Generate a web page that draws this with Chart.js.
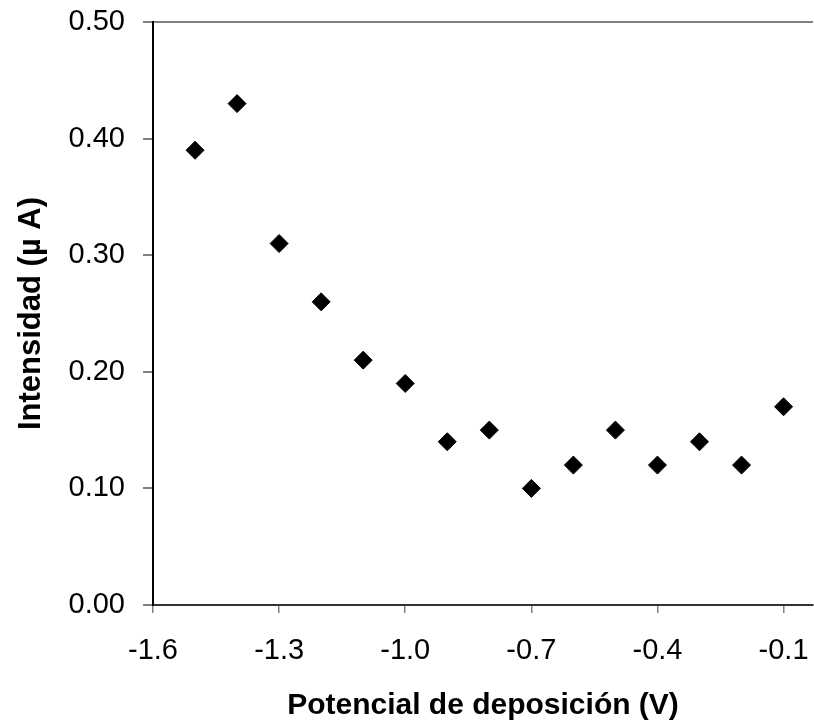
<!DOCTYPE html>
<html>
<head>
<meta charset="utf-8">
<script src="https://cdn.jsdelivr.net/npm/chart.js@4/dist/chart.umd.min.js"></script>
<style>
  html, body { margin: 0; padding: 0; background: #fff; overflow: hidden; }
  canvas { display: block; }
</style>
</head>
<body>
<canvas id="chart" width="814" height="727"></canvas>
<script>
// potencial de deposición (V) vs intensidad (µA)
const potencial = [-1.5, -1.4, -1.3, -1.2, -1.1, -1.0, -0.9, -0.8, -0.7, -0.6, -0.5, -0.4, -0.3, -0.2, -0.1];
const intensidad = [0.39, 0.43, 0.31, 0.26, 0.21, 0.19, 0.14, 0.15, 0.10, 0.12, 0.15, 0.12, 0.14, 0.12, 0.17];
const xTicks = [-1.6, -1.3, -1.0, -0.7, -0.4, -0.1];
const yTicks = [0, 0.1, 0.2, 0.3, 0.4, 0.5];

const font = { family: '"Liberation Sans", Arial, sans-serif', size: 29 };
const boldFont = { family: '"Liberation Sans", Arial, sans-serif', size: 30, weight: 'bold' };

new Chart(document.getElementById('chart'), {
  type: 'scatter',
  data: {
    datasets: [{
      data: potencial.map((x, i) => ({ x: x, y: intensidad[i] })),
      pointStyle: 'rectRot',
      pointRadius: 9,
      pointBackgroundColor: '#000',
      pointBorderColor: '#000',
      pointBorderWidth: 1
    }]
  },
  options: {
    responsive: false,
    animation: false,
    layout: { autoPadding: false, padding: { top: 22, right: 1, left: 0, bottom: 0 } },
    plugins: { legend: { display: false }, tooltip: { enabled: false } },
    scales: {
      x: {
        type: 'linear',
        min: -1.6,
        max: -0.03,
        afterBuildTicks: s => { s.ticks = xTicks.map(v => ({ value: v })); },
        afterFit: s => { s.height = 122; s.paddingLeft = 0; s.paddingRight = 0; },
        border: { display: true, color: '#333', width: 2 },
        grid: { drawOnChartArea: false, drawTicks: true, tickLength: 8, tickColor: '#808080', lineWidth: 1.5 },
        ticks: { color: '#000', font: font, padding: 21, maxRotation: 0,
                 callback: v => v.toFixed(1) },
        title: { display: true, text: 'Potencial de deposición (V)', color: '#000', font: boldFont,
                 padding: { top: 0, bottom: 3 } }
      },
      y: {
        type: 'linear',
        min: 0,
        max: 0.5,
        afterBuildTicks: s => { s.ticks = yTicks.map(v => ({ value: v })); },
        afterFit: s => { s.width = 153; s.paddingTop = 0; s.paddingBottom = 0; },
        border: { display: true, color: '#000', width: 2 },
        grid: {
          drawTicks: true,
          tickLength: 10,
          tickColor: '#808080',
          lineWidth: 2,
          color: ctx => (ctx.tick && Math.abs(ctx.tick.value - 0.5) < 1e-9) ? '#808080' : 'rgba(0,0,0,0)'
        },
        ticks: { color: '#000', font: font, padding: 18,
                 callback: v => v.toFixed(2) },
        title: { display: true, text: 'Intensidad (µ A)', color: '#000',
                 font: { family: '"Liberation Sans", Arial, sans-serif', size: 31, weight: 'bold' },
                 padding: { top: 13, bottom: 0 } }
      }
    }
  }
});
</script>
</body>
</html>
